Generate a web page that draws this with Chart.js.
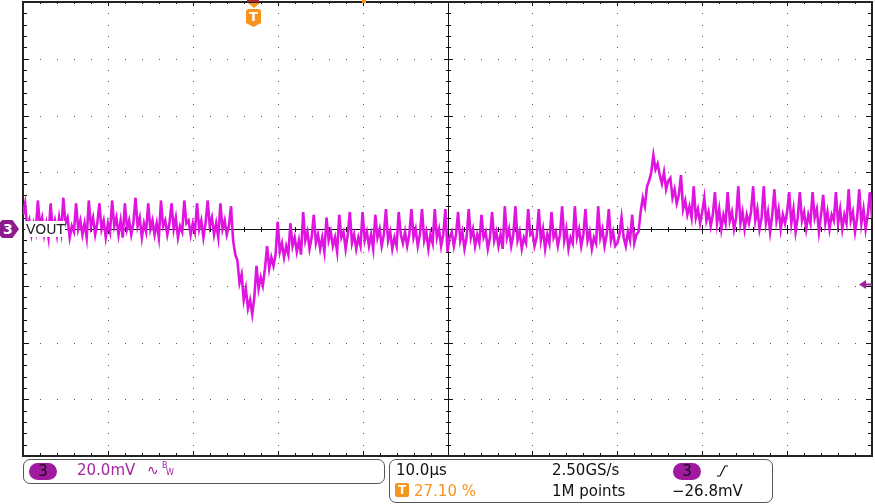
<!DOCTYPE html>
<html>
<head>
<meta charset="utf-8">
<script src="https://cdn.jsdelivr.net/npm/chart.js@4.4.0/dist/chart.umd.min.js"></script>
<style>
  body { margin: 0; background: #fff; font-family: "DejaVu Sans", sans-serif; }
  #wrap { position: relative; width: 875px; height: 504px; overflow: hidden; background: #fff; }
  #scope { position: absolute; left: 0; top: 0; }
  .abs { position: absolute; }
  .txt { position: absolute; font-size: 15px; line-height: 15px; color: #111; white-space: nowrap; }
  .box { position: absolute; border: 1px solid #555; border-radius: 7px; box-sizing: border-box; }
  .oval { position: absolute; background: #a01aa0; border-radius: 9px; color: #111; font-size: 15px; line-height: 17px; text-align: center; }
</style>
</head>
<body>
<div id="wrap">
  <canvas id="scope" width="875" height="504"></canvas>

  <!-- trigger marker on top -->
  <div class="abs" style="left:247px;top:0;width:12px;height:2px;background:#b3262e"></div>
  <div class="abs" style="left:362px;top:0;width:4px;height:3px;background:#f7941d"></div>
  <div class="abs" style="left:248px;top:3px;width:12px;height:5px;background:#f7941d;clip-path:polygon(0 0,100% 0,50% 100%)"></div>
  <div class="abs" style="left:246px;top:9px;width:15px;height:18px;background:#f7941d;border-radius:3px 3px 0 0;clip-path:polygon(0 0,100% 0,100% 78%,50% 100%,0 78%);color:#fff;font:bold 13px 'DejaVu Sans';line-height:16px;text-align:center">T</div>

  <!-- channel 3 ground marker -->
  <div class="abs" style="left:0;top:220px;width:19px;height:18px;background:#8e1a8e;clip-path:polygon(0 12%,12% 0,66% 0,100% 50%,66% 100%,12% 100%,0 88%);color:#fff;font:bold 14px 'DejaVu Sans';line-height:18px;text-indent:3px">3</div>
  <div class="abs" style="left:25px;top:221px;width:40px;height:16px;background:#fff"></div>
  <div class="txt" style="left:26px;top:222px;font-size:14px;color:#222">VOUT</div>

  <!-- status bar, channel box -->
  <div class="box" style="left:23px;top:459px;width:362px;height:25px"></div>
  <div class="oval" style="left:29px;top:463px;width:28px;height:17px">3</div>
  <div class="txt" style="left:77px;top:463px;color:#a424a4">20.0mV</div>
  <div class="txt" style="left:147px;top:463px;color:#a424a4;font-size:14px">&#8767;</div>
  <div class="txt" style="left:162px;top:462px;color:#a424a4;font-size:8px;line-height:8px">B</div>
  <div class="txt" style="left:166px;top:469px;color:#a424a4;font-size:8px;line-height:8px">W</div>

  <!-- status bar, timebase box -->
  <div class="box" style="left:389px;top:459px;width:384px;height:44px"></div>
  <div class="txt" style="left:396px;top:463px">10.0&micro;s</div>
  <div class="abs" style="left:395px;top:483px;width:14px;height:14px;background:#f7941d;border-radius:2px;color:#fff;font:bold 12px 'DejaVu Sans';line-height:14px;text-align:center">T</div>
  <div class="txt" style="left:414px;top:484px;color:#f7941d">27.10 %</div>
  <div class="txt" style="left:552px;top:463px">2.50GS/s</div>
  <div class="txt" style="left:552px;top:484px">1M points</div>
  <div class="oval" style="left:673px;top:463px;width:28px;height:17px">3</div>
  <svg class="abs" style="left:715px;top:464px" width="14" height="14"><polyline points="2,12 5,12 10,2 13,2" fill="none" stroke="#111" stroke-width="1.2"/></svg>
  <div class="txt" style="left:672px;top:484px">&minus;26.8mV</div>
</div>

<script>
// scope settings
const sampleStep = 0.25;               // µs between samples
const timeTicks = [0, 10, 20, 30, 40, 50, 60, 70, 80, 90, 100];   // µs, 10 µs/div
const voltTicks = [-80, -60, -40, -20, 0, 20, 40, 60, 80];        // mV, 20 mV/div

// VOUT, mV, one sample every 0.25 µs
const vout = [
  5, 9, 0, 3, -2, 2, -1, 10, 1, 4, -2, 2, -3, 9, 0, 3, -2, 4, -1, 11,
  2, 4, -3, 1, -1, 9, 0, 3, -2, 2, -3, 10, 1, 4, -2, 2, 9, 0, 3, -3,
  2, -1, 10, 1, 4, -2, 3, -3, 9, 0, 3, -2, 2, 11, 1, 4, -3, 2, -1, 9,
  0, 3, -2, 2, -3, 10, 1, 3, -2, 2, 9, 0, 4, -3, 1, -1, 10, 2, 3, -2,
  2, -1, 9, 0, 3, -3, 2, 10, 1, 4, -2, 2, -3, 9, 0, 3, -2, 1, 8, -4,
  -9, -11, -19, -16, -25, -21, -28, -25, -30, -24, -13, -21, -17, -20, -14, -6, -14, -10, -13, -9,
  2.5, -8, -5, -10, -6, -9, 2, -6, -3, -8, -4, -9, 6, -4, -1, -7, -3, 5, -5, -2,
  -7, -3, -8, 4, -4, -1, -6, -3, -8, 5, -3, -1, -7, -2, 6, -5, -2, -7, -3, -6,
  6, -4, -1, -6, -2, -7, 5, -3, 0, -6, -2, 7, -4, -1, -7, -3, -6, 6, -2, -5,
  -1, -6, -2, 7, -3, 0, -6, -2, 7, -4, -1, -7, -2, -5, 7, -3, 0, -6, -2, 7,
  -8, -3, -1, -6, -2, 6, -4, -1, -7, -3, 7, -3, 0, -6, -2, -5, 5, -3, -1, -7,
  -3, 6, -4, -1, -6, -2, -7, 8, -3, 0, -6, -2, 8, -4, -1, -7, -3, -5, 7, -2,
  -1, -6, -3, 7, -4, 0, -7, -2, -5, 6, -3, -1, -6, -2, 8, -4, 0, -7, -3, -5,
  8, -3, 0, -6, -2, 7, -4, -1, -7, -3, -5, 8, -3, 0, -6, -2, 7, -4, -1, -6,
  -5, -2, 4, -3, -6, -1, -4, 5, -5, -2, -1, 6, 11, 8, 15, 17, 20, 26, 21, 23,
  19, 16, 20, 14, 17, 18, 11, 14, 9, 12, 19, 7, 10, 5, 8, 4, 15, 4, 7, 2,
  6, 11, 3, 6, 1, 5, 13, 2, 7, 0, 5, 2, 13, 3, 6, 0, 4, 15, 2, 6,
  0, 5, 2, 6, 15, 3, 7, 0, 4, 15, 2, 6, -1, 5, 14, 3, 7, 0, 5, 2,
  6, 13, 2, 7, -1, 4, 13, 3, 6, 0, 5, 2, 13, 4, 7, -1, 5, 12, 2, 6,
  0, 5, 3, 13, 2, 7, 0, 5, 2, 14, 3, 6, -1, 4, 14, 2, 7, 0, 5, 13,
  4
];
const trigLevelMarker = -19.5;   // mV, where the arrow on the right sits

let points = vout.map((v, i) => ({ x: i * sampleStep, y: v }));

// scope graticule: dotted grid, solid centre cross, ticks on the frame
const graticule = {
  id: 'graticule',
  beforeDatasetsDraw(chart) {
    const { ctx, chartArea: a, scales: { x, y } } = chart;
    const tMin = timeTicks[0], tMax = timeTicks[timeTicks.length - 1];
    const vMin = voltTicks[0], vMax = voltTicks[voltTicks.length - 1];
    const tMid = (tMin + tMax) / 2, vMid = (vMin + vMax) / 2;
    const tMinor = (timeTicks[1] - timeTicks[0]) / 5;
    const vMinor = (voltTicks[1] - voltTicks[0]) / 5;
    ctx.save();
    ctx.fillStyle = '#555';
    timeTicks.forEach(t => {
      if (t === tMin || t === tMax || t === tMid) return;
      let px = Math.round(x.getPixelForValue(t));
      for (let v = vMin + vMinor; v < vMax; v += vMinor) {
        ctx.fillRect(px, Math.round(y.getPixelForValue(v)), 1, 1);
      }
    });
    voltTicks.forEach(v => {
      if (v === vMin || v === vMax || v === vMid) return;
      let py = Math.round(y.getPixelForValue(v));
      for (let t = tMin + tMinor; t < tMax; t += tMinor) {
        ctx.fillRect(Math.round(x.getPixelForValue(t)), py, 1, 1);
      }
    });

    // centre cross
    ctx.fillStyle = '#111';
    let cx = Math.round(x.getPixelForValue(tMid));
    let cy = Math.round(y.getPixelForValue(vMid));
    ctx.fillRect(a.left, cy, a.right - a.left, 1);
    ctx.fillRect(cx, a.top, 1, a.bottom - a.top);
    for (let t = tMin + tMinor, k = 1; t < tMax; t += tMinor, k++) {
      let px = Math.round(x.getPixelForValue(t));
      let len = k % 5 === 0 ? 4 : 2;
      ctx.fillRect(px, cy - len, 1, 2 * len + 1);
      ctx.fillRect(px, a.top, 1, len);
      ctx.fillRect(px, a.bottom - len - 1, 1, len + 1);
    }
    for (let v = vMin + vMinor, k = 1; v < vMax; v += vMinor, k++) {
      let py = Math.round(y.getPixelForValue(v));
      let len = k % 5 === 0 ? 5 : 3;
      ctx.fillRect(cx - len + 1, py, 2 * len - 1, 1);
      ctx.fillRect(a.left, py, len + 1, 1);
      ctx.fillRect(a.right - len - 1, py, len + 1, 1);
    }

    // frame
    ctx.strokeStyle = '#222';
    ctx.lineWidth = 2;
    ctx.strokeRect(a.left, a.top, a.right - a.left, a.bottom - a.top);
    ctx.restore();
  },
  afterDatasetsDraw(chart) {
    const { ctx, chartArea: a, scales: { y } } = chart;
    let py = Math.round(y.getPixelForValue(trigLevelMarker)) + 0.5;
    ctx.save();
    ctx.fillStyle = '#a020a0';
    ctx.strokeStyle = '#a020a0';
    ctx.beginPath();
    ctx.moveTo(a.right - 13, py);
    ctx.lineTo(a.right - 6, py - 4.5);
    ctx.lineTo(a.right - 6, py + 4.5);
    ctx.closePath();
    ctx.fill();
    ctx.lineWidth = 2;
    ctx.beginPath();
    ctx.moveTo(a.right - 7, py);
    ctx.lineTo(a.right, py);
    ctx.stroke();
    ctx.restore();
  }
};

new Chart(document.getElementById('scope'), {
  type: 'line',
  data: {
    datasets: [{
      // persistence glow of the trace
      label: 'VOUT',
      data: points,
      borderColor: '#e014e0',
      borderWidth: 2.6,
      pointRadius: 0,
      tension: 0
    }, {
      // darker core, like the scope's dense-trace shading
      label: 'VOUT core',
      data: points,
      borderColor: '#8a108a',
      borderWidth: 0.7,
      pointRadius: 0,
      tension: 0
    }]
  },
  options: {
    responsive: false,
    animation: false,
    devicePixelRatio: 1,
    layout: { padding: { left: 23, top: 2, right: 3, bottom: 48 } },
    plugins: { legend: { display: false }, tooltip: { enabled: false } },
    scales: {
      x: { type: 'linear', display: false, min: timeTicks[0], max: timeTicks[timeTicks.length - 1] },
      y: { type: 'linear', display: false, min: voltTicks[0], max: voltTicks[voltTicks.length - 1] }
    }
  },
  plugins: [graticule]
});
</script>
</body>
</html>
